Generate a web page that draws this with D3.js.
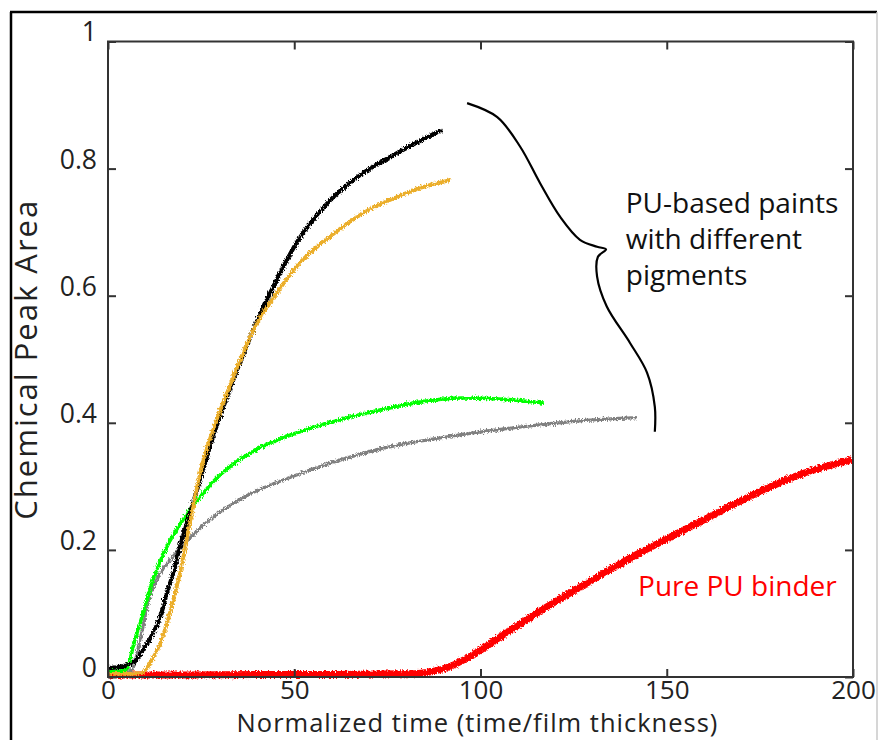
<!DOCTYPE html>
<html>
<head>
<meta charset="utf-8">
<script src="https://cdn.jsdelivr.net/npm/d3@7"></script>
<style>
  html, body { margin: 0; padding: 0; background: #fff; }
  svg { display: block; }
  text { font-family: "Open Sans", "Noto Sans", sans-serif; }
</style>
</head>
<body>
<svg id="chart" width="878" height="740"></svg>
<script>
// Chemical peak area vs. normalized time (time / film thickness)
const xTicks = [0, 50, 100, 150, 200];
const yTicks = [0, 0.2, 0.4, 0.6, 0.8, 1];

// [normalized time, peak area]
const pureBinder = [
  [0, 0.003], [20, 0.003], [40, 0.004], [60, 0.004], [80, 0.005], [84, 0.006],
  [91.6, 0.016], [99.9, 0.042], [106, 0.066], [115, 0.100], [124, 0.132],
  [133, 0.163], [142, 0.193], [150.9, 0.22], [159.8, 0.247], [168.8, 0.274],
  [177.7, 0.299], [186.6, 0.32], [199.8, 0.342]
];
const grayPaint = [
  [0, 0.008], [5, 0.009], [6.4, 0.011], [8.6, 0.058], [11.3, 0.128], [14, 0.163],
  [17.5, 0.19], [21.2, 0.214], [24.7, 0.234], [29.2, 0.256], [33.6, 0.273],
  [38.1, 0.288], [42.7, 0.30], [49.7, 0.316], [60, 0.337], [73, 0.359],
  [91, 0.378], [108.7, 0.392], [126.7, 0.403], [142, 0.408]
];
const greenPaint = [
  [0, 0.008], [4, 0.01], [5.4, 0.016], [6.7, 0.047], [9.4, 0.10], [12.1, 0.153],
  [15.8, 0.205], [20.1, 0.247], [24.7, 0.283], [29.2, 0.313], [33.6, 0.335],
  [38.1, 0.352], [42.7, 0.366], [51.5, 0.386], [60, 0.401], [73, 0.42],
  [82, 0.431], [95.3, 0.439], [108.7, 0.436], [117, 0.431]
];
const blackPaint = [
  [0, 0.014], [3, 0.016], [6.7, 0.022], [9.4, 0.043], [12.1, 0.069], [14, 0.094],
  [15.8, 0.132], [17.5, 0.163], [19.3, 0.205], [21.2, 0.242], [24.7, 0.31],
  [28.2, 0.378], [31.9, 0.44], [39, 0.546], [45.3, 0.625], [50.6, 0.683],
  [59.6, 0.75], [68.5, 0.793], [77.5, 0.824], [89.6, 0.861]
];
const orangePaint = [
  [0, 0.005], [5, 0.005], [9, 0.006], [11.3, 0.022], [14, 0.053], [16.6, 0.10],
  [19.3, 0.163], [22, 0.242], [24.7, 0.32], [28.2, 0.389], [31.9, 0.446],
  [39, 0.546], [45.3, 0.604], [50.6, 0.646], [59.6, 0.693], [68.5, 0.73],
  [77.5, 0.755], [84, 0.77], [91.9, 0.782]
];

// drawing order: bottom to top
const seriesList = [
  { name: "Pure PU binder", data: pureBinder, color: "#ff0000", width: 7 },
  { name: "gray pigment", data: grayPaint, color: "#808080", width: 3.2 },
  { name: "green pigment", data: greenPaint, color: "#00ff00", width: 3.6 },
  { name: "black pigment", data: blackPaint, color: "#000000", width: 4.2 },
  { name: "orange pigment", data: orangePaint, color: "#ebae2a", width: 3.8 }
];

// curly brace grouping the pigmented paints, in data units
const bracePoints = [
  [96.4, 0.903], [104.5, 0.881], [110.7, 0.834], [116, 0.777], [121.4, 0.724],
  [126.7, 0.688], [131.3, 0.677], [133.7, 0.673], [131.5, 0.661], [131.3, 0.630],
  [133.9, 0.583], [140.1, 0.526], [144.7, 0.479], [146.8, 0.425], [146.8, 0.386]
];
const groupLabel = ["PU-based paints", "with different", "pigments"];

const svg = d3.select("#chart");
const W = 878, H = 740;

const x = d3.scaleLinear().domain([0, 200]).range([108, 853]);
const y = d3.scaleLinear().domain([0, 1]).range([677, 41.5]);

// page frame
svg.append("line").attr("x1", 11).attr("x2", 11).attr("y1", 12).attr("y2", H)
  .attr("stroke", "#000").attr("stroke-width", 2.5);
svg.append("line").attr("x1", 10).attr("x2", 877).attr("y1", 12).attr("y2", 12)
  .attr("stroke", "#000").attr("stroke-width", 2.5);
svg.append("line").attr("x1", 877).attr("x2", 877).attr("y1", 12).attr("y2", H)
  .attr("stroke", "#c8c8c8").attr("stroke-width", 1.5);

// fuzzy texture for the measured signals
const defs = svg.append("defs");
const f = defs.append("filter").attr("id", "grain")
  .attr("x", "-5%").attr("y", "-5%").attr("width", "110%").attr("height", "110%");
f.append("feTurbulence").attr("type", "fractalNoise").attr("baseFrequency", "1.2 0.5")
  .attr("numOctaves", 2).attr("seed", 3).attr("result", "n");
f.append("feDisplacementMap").attr("in", "SourceGraphic").attr("in2", "n")
  .attr("scale", 5.5).attr("xChannelSelector", "R").attr("yChannelSelector", "G");

const line = d3.line()
  .x(d => x(d[0])).y(d => y(d[1]))
  .curve(d3.curveMonotoneX);

const plot = svg.append("g");
plot.selectAll("path.series")
  .data(seriesList)
  .join("path")
  .attr("class", "series")
  .attr("d", d => line(d.data))
  .attr("fill", "none")
  .attr("stroke", d => d.color)
  .attr("stroke-width", d => d.width)
  .attr("stroke-linejoin", "round")
  .attr("filter", "url(#grain)");

// axes with inward ticks on all four sides
const axisColor = "#333";
const fmt = d => String(d);

const gx = svg.append("g").attr("transform", `translate(0,${y(0)})`)
  .call(d3.axisBottom(x).tickValues(xTicks).tickFormat(fmt)
    .tickSizeInner(-8).tickSizeOuter(0).tickPadding(3.5));
const gxt = svg.append("g").attr("transform", `translate(0,${y(1)})`)
  .call(d3.axisTop(x).tickValues(xTicks).tickFormat("")
    .tickSizeInner(-8).tickSizeOuter(0));
const gy = svg.append("g").attr("transform", `translate(${x(0)},0)`)
  .call(d3.axisLeft(y).tickValues(yTicks).tickFormat(fmt)
    .tickSizeInner(-8).tickSizeOuter(0).tickPadding(11));
const gyr = svg.append("g").attr("transform", `translate(${x(200)},0)`)
  .call(d3.axisRight(y).tickValues(yTicks).tickFormat("")
    .tickSizeInner(-8).tickSizeOuter(0));

[gx, gxt, gy, gyr].forEach(g => {
  g.select(".domain").remove();
  g.selectAll(".tick line").attr("stroke", axisColor).attr("stroke-width", 2);
  g.selectAll(".tick text")
    .attr("fill", "#222")
    .style("font-size", "26.5px")
    .style("font-family", "'Open Sans', sans-serif");
});
gy.selectAll(".tick text").attr("dy", "-0.02em");
gx.selectAll(".tick text").attr("dy", "0.71em").style("font-size", "26px");

// plot box
svg.append("rect")
  .attr("x", x(0)).attr("y", y(1))
  .attr("width", x(200) - x(0)).attr("height", y(0) - y(1))
  .attr("fill", "none").attr("stroke", axisColor).attr("stroke-width", 2);

// axis titles
svg.append("text")
  .attr("x", (x(0) + x(200)) / 2 - 3).attr("y", 732)
  .attr("text-anchor", "middle")
  .attr("fill", "#222").style("font-size", "25.5px")
  .style("letter-spacing", "1px")
  .text("Normalized time (time/film thickness)");

svg.append("text")
  .attr("transform", `translate(37,${y(0.5)}) rotate(-90)`)
  .attr("text-anchor", "middle")
  .attr("fill", "#222").style("font-size", "31px")
  .style("letter-spacing", "2px")
  .text("Chemical Peak Area");

// brace and labels
svg.append("path")
  .attr("d", d3.line().x(d => x(d[0])).y(d => y(d[1])).curve(d3.curveCatmullRom)(bracePoints))
  .attr("fill", "none").attr("stroke", "#000").attr("stroke-width", 2.2);

svg.append("g").selectAll("text")
  .data(groupLabel)
  .join("text")
  .attr("x", x(139))
  .attr("y", (d, i) => y(0.73) + i * 36)
  .attr("fill", "#111").style("font-size", "28px")
  .text(d => d);

svg.append("text")
  .attr("x", x(142.3)).attr("y", y(0.127))
  .attr("fill", "#ff0000").style("font-size", "28px")
  .text("Pure PU binder");
</script>
</body>
</html>
